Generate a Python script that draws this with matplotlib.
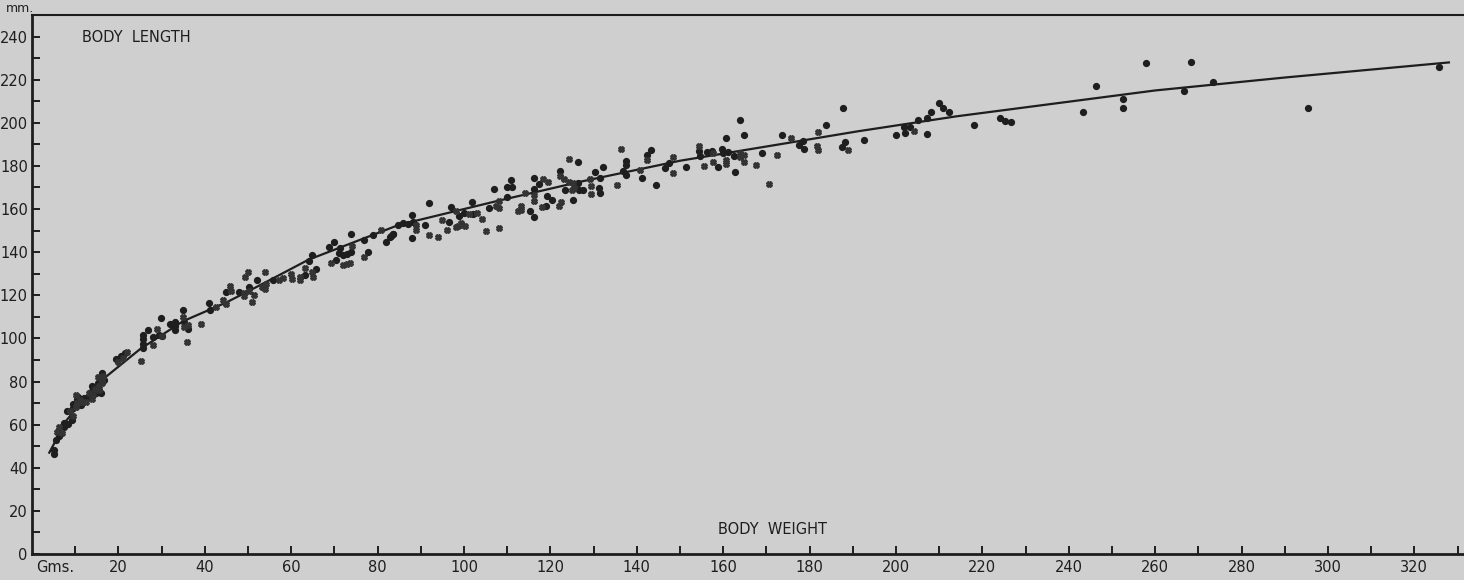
import matplotlib
matplotlib.use('Agg')
import matplotlib.pyplot as plt

# body weight (g) vs body length (mm)
circle_w = [5, 5.1, 5.5, 6.3, 7.3, 7.3, 8.4, 9.2, 8.1, 9.6, 9.4, 10.4, 10.7, 11.3, 12.1, 13, 13.6, 14, 14.8, 15.2,
            15.8, 16.1, 15.9, 16.7, 19.5, 20.5, 21.5, 25.8, 25.8, 25.8, 25.8, 26.8, 28, 29.3, 29.8, 30,
            31.9, 33, 33, 33, 34.9, 35.3, 36.1, 40.9, 41.2, 44.8, 47.9, 50.2, 52.1, 55.9, 63.1, 65.8, 64.2, 64.8,
            68.8, 69.8, 71.2, 70.4, 71.1, 71.9, 73, 73.9, 73.9, 76.9, 77.8, 79, 81.9, 82.9, 83.5, 84.8,
            83.2, 83.6, 85.9, 87.1, 88.1, 88, 87.9, 91, 91.9, 96.5, 96.9, 98.8, 99.9, 102, 101.9, 105.9,
            106.9, 109.9, 111.1, 111, 109.9, 115.2, 116.2, 116.2, 116.3, 117.3, 119, 119.3, 120.4, 122.3,
            123.5, 125.3, 126.3, 126.5, 126.7, 127.5, 130.4, 131.5, 131.3, 131.5, 132.1, 136.7, 137.5, 137.5,
            137.6, 141.3, 142.4, 143.4, 144.5, 146.5, 147.5, 151.5, 154.4, 154.6, 156.3, 157.5, 158.8, 159.8,
            160, 161.2, 160.7, 162.5, 162.7, 163.8, 164.8, 168.9, 173.6, 177.5, 178.4, 178.7, 183.8, 187.7,
            188.3, 187.6, 192.6, 199.9, 201.9, 203.2, 202.1, 205, 207.1, 208, 207.2, 209.9, 210.9, 212.2,
            218, 224.2, 225.2, 226.6, 243.4, 246.4, 252.5, 252.6, 258, 268.3, 266.6, 273.5, 295.4, 325.7]
circle_l = [48.3, 46.4, 52.9, 54.5, 58.8, 60.7, 60.4, 62.2, 66.1, 67.6, 69.6, 71.8, 73, 69.2, 72.3, 73, 75.3, 77.7,
            74.6, 79.5, 82, 83.9, 74.6, 80.8, 90.5, 92, 93, 95.5, 97.5, 99.5, 101.5, 104, 100.7, 101.7, 109.6, 101,
            106.8, 107.8, 105.8, 104, 113.3, 107.6, 104.3, 116.4, 113, 121.6, 121.3, 123.8, 126.9, 126.9, 129.4,
            132.3, 136, 138.7, 142.2, 144.5, 141.7, 136.5, 139.6, 138.8, 139.1, 140, 148.6, 145.8, 140.3, 148.1,
            144.5, 147, 148.4, 152.7, 147.5, 148.6, 153.5, 153.2, 153.8, 146.6, 157.2, 152.7, 162.8, 154.1,
            160.9, 156.9, 158.2, 157.5, 163.2, 160.3, 169.3, 170.2, 170.2, 173.3, 165.6, 159, 174.4, 169.3,
            156.3, 171.8, 161.6, 165.9, 164.1, 177.7, 169, 164, 181.7, 172.1, 169, 168.7, 177.2, 174.4, 169.8,
            167.5, 179.5, 177.5, 182.5, 180.3, 176, 174.4, 185.2, 187.2, 171.3, 179.1, 181.4, 179.4, 186.8,
            184.5, 186.3, 186.8, 179.4, 187.9, 186, 186.6, 193, 184.5, 177.2, 201.5, 194.2, 186, 194.2, 189.8,
            191.5, 187.9, 199, 206.7, 191.1, 188.8, 192.2, 194.2, 197.9, 198.1, 195.3, 201.4, 202, 205.2, 195,
            209.2, 206.9, 205.1, 199.2, 202.3, 200.9, 200.6, 205.2, 217.3, 206.9, 211.2, 227.8, 228.1, 214.6,
            218.8, 206.7, 225.9]

cross_w = [5.9, 6.9, 6.3, 9.4, 8.8, 10.2, 10.2, 10.5, 11.1, 11.5, 12.5, 13.2, 13.8, 14.5, 14.2, 15.5, 16.3, 15.5,
           16.5, 16.1, 15.2, 19.8, 21, 22, 25.2, 28, 29, 30.2, 35, 36.2, 35.3, 35.9, 39.2, 42.5, 44.2, 45, 45.9,
           46.1, 49.2, 50, 49, 49, 50.2, 51.5, 51, 53.2, 54, 54.2, 54, 57.1, 58.2, 59.9, 60.2, 62, 62, 63.1, 64.8,
           65, 69.2, 74, 71.9, 72.9, 73.6, 76.9, 80.9, 88.9, 89, 91.9, 94, 95, 96.1, 98.2, 98.6, 99.4, 100.2,
           99.6, 98.1, 101.1, 103, 104.2, 105, 107.3, 108.2, 108.2, 108.2, 112.6, 113.2, 113.2, 114.2, 116.2,
           116.2, 118.4, 119.4, 118.1, 122.1, 122.5, 122.3, 123.2, 124.2, 124.4, 125.3, 125.5, 125, 129.2,
           129.4, 129.5, 135.5, 136.4, 140.7, 142.4, 148.4, 148.5, 154.4, 155.5, 157.7, 157.7, 160.7, 160.6,
           163.8, 163.8, 164.8, 164.8, 167.6, 170.6, 172.4, 175.6, 181.9, 181.7, 181.9, 189, 204.1]
cross_l = [56.6, 56.3, 58.8, 64.1, 66.5, 68.4, 73.8, 70, 71.5, 70.7, 70.7, 74.6, 71.8, 76.5, 73.8, 77.7, 80.5, 76.1,
           82.6, 79.2, 82.3, 89, 91, 93.5, 89.6, 97, 104.5, 101.2, 110, 106.3, 105.5, 98.3, 106.5, 114.4, 117.9,
           116, 124.4, 122.2, 128.4, 131, 121, 119.5, 121.8, 120.2, 116.8, 123.8, 122.9, 125.3, 131, 126.9,
           127.8, 130, 127.7, 128.7, 126.9, 132.6, 130.6, 128.7, 135.2, 142.7, 134.2, 134.6, 135.2, 137.7,
           150.1, 152.7, 150.4, 148.1, 147, 154.7, 150.4, 151.7, 152.3, 153.5, 152, 152.7, 159.1, 157.8,
           158.2, 155.4, 150, 161.3, 160.5, 163.6, 151.2, 159, 159.7, 161.5, 167.5, 166.7, 163.6, 174, 172.4,
           161, 161.3, 163.2, 175.2, 174, 183.2, 172.4, 172.1, 169.8, 168.7, 174, 170.5, 167.1, 171.2, 187.9,
           178.3, 182.6, 176.8, 184.1, 189.1, 180.1, 185.9, 181.9, 182.6, 181.1, 186, 184.2, 185.1, 181.9,
           180.6, 171.8, 185.1, 193, 195.9, 189.1, 187.6, 187.2, 196.1]

# fitted curve drawn on the plate
line_w = [4, 8, 12, 17, 25, 30, 35, 45, 50, 55, 64, 85, 107, 127, 150, 173, 191, 214, 237, 260, 290, 328]
line_l = [47, 62, 72, 82, 95, 101.5, 108, 116.7, 121.8, 127, 136.5, 152.7, 163.4, 172.7, 182.4, 190, 196, 203,
          209, 215, 221, 228]

x_ticks = list(range(10, 331, 10))
y_ticks = list(range(0, 241, 10))

bg = '#cfcfcf'
ink = '#1e1e1e'

fig = plt.figure(figsize=(14.64, 5.8), dpi=100, facecolor=bg)
ax = fig.add_axes([32/1464, 26/580, 1 - 32/1464, 539/580], facecolor=bg)

ax.plot(line_w, line_l, color=ink, lw=1.6, zorder=2)
ax.plot(circle_w, circle_l, 'o', ms=4.2, color=ink, mec=ink, zorder=3)
ax.plot(cross_w, cross_l, 'X', ms=3.8, color='#333333', mec='#333333', zorder=3)

ax.set_xlim(0, 331.5)
ax.set_ylim(0, 250)
ax.set_xticks(x_ticks)
ax.set_xticklabels([str(v) if v % 20 == 0 else '' for v in x_ticks])
ax.set_yticks(y_ticks)
ax.set_yticklabels([str(v) if v % 20 == 0 else '' for v in y_ticks])
ax.tick_params(direction='in', length=6, width=1.4, colors=ink, labelsize=10.5)
ax.tick_params(axis='x', pad=4)
ax.tick_params(axis='y', pad=3)

ax.spines['right'].set_visible(False)
ax.spines['left'].set_linewidth(2)
ax.spines['bottom'].set_linewidth(2)
ax.spines['top'].set_linewidth(1.5)
for s in ('left', 'bottom', 'top'):
    ax.spines[s].set_color(ink)

fig.text(82/1464, 1 - 37/580, 'BODY  LENGTH', fontsize=10.5, color=ink, va='center')
fig.text(718/1464, 1 - 530/580, 'BODY  WEIGHT', fontsize=10.5, color=ink, va='center')
fig.text(36/1464, 1 - 567/580, 'Gms.', fontsize=10.5, color=ink, va='center')
fig.text(6/1464, 1 - 8/580, 'mm.', fontsize=9, color=ink, va='center')

fig.savefig('out.png', dpi=100, facecolor=bg)
